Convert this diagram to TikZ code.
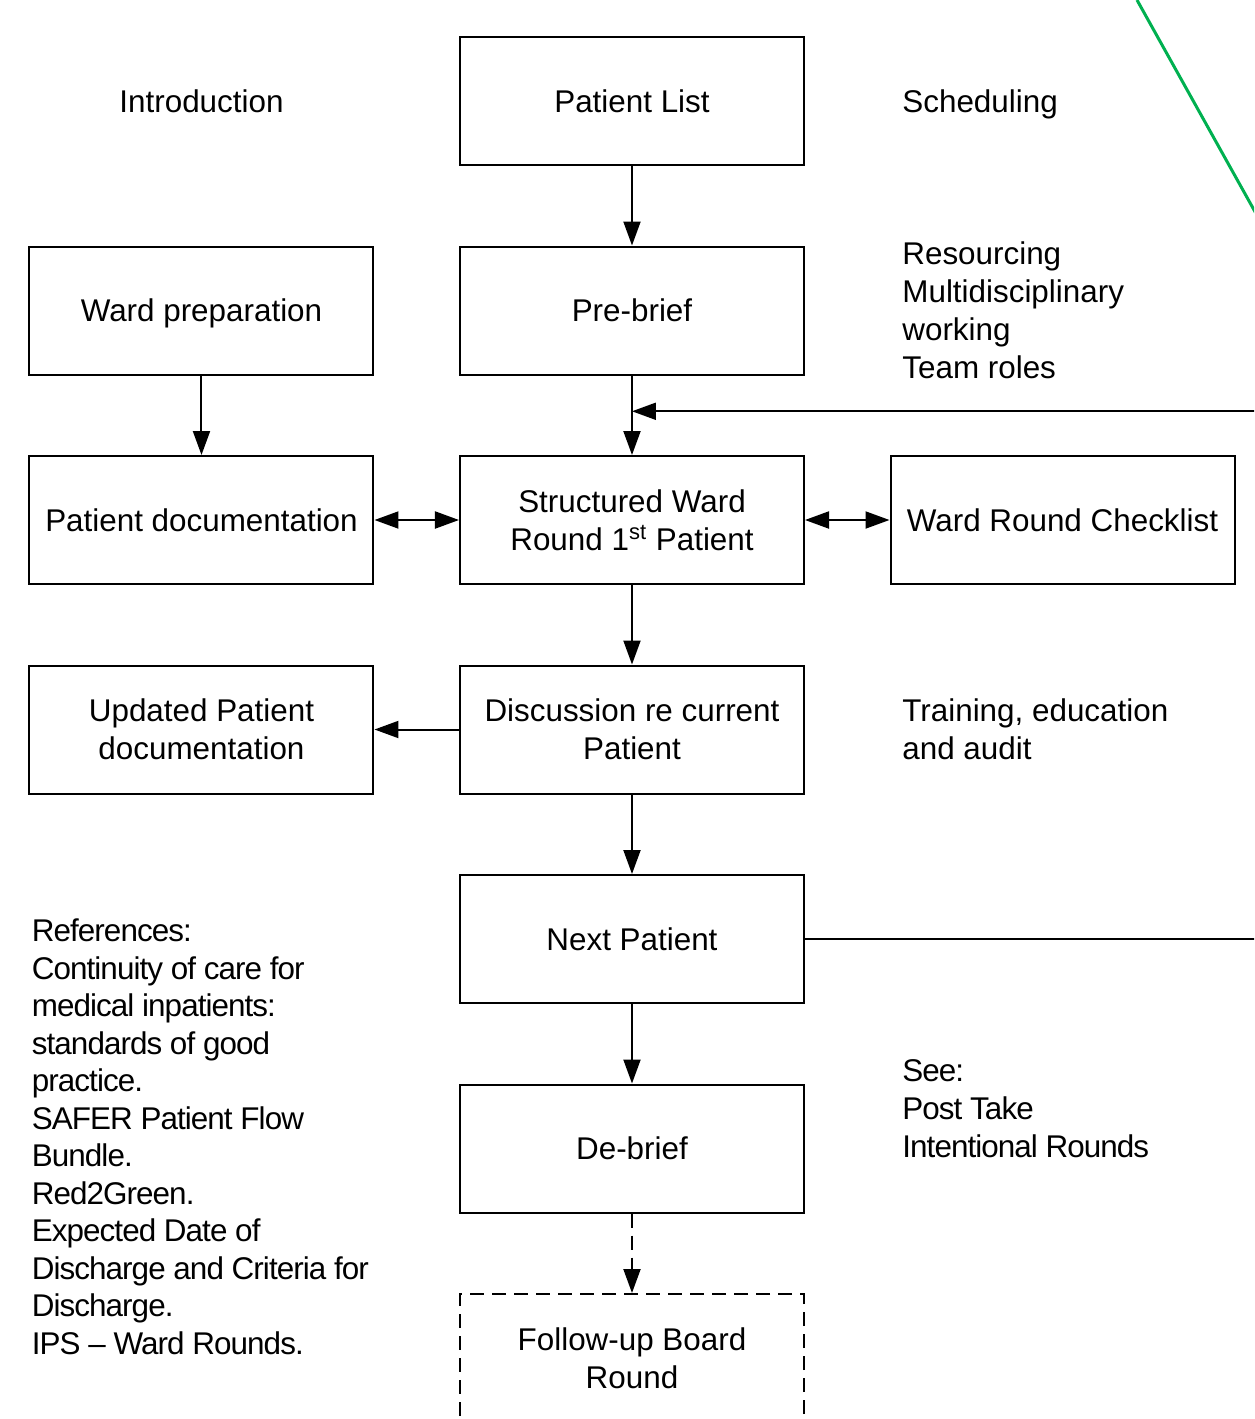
\documentclass[tikz,border=0pt]{standalone}
\usepackage{fontspec}
\setmainfont{Liberation Sans}
\newfontfamily\tightfont[LetterSpace=-3]{Liberation Sans}
\usetikzlibrary{arrows.meta,positioning}
\definecolor{slidegreen}{RGB}{0,176,80}
\tikzstyle{line} = [draw, line width=1pt, -{Triangle[length=12pt,width=8.5pt]}]
\tikzstyle{dline} = [draw, line width=1pt, {Triangle[length=12pt,width=8.5pt]}-{Triangle[length=12pt,width=8.5pt]}]
\tikzstyle{box} = [rectangle, draw, line width=1pt, minimum width=172pt, minimum height=64pt, align=center, text depth=0pt, node distance=104.75pt, font=\fontsize{15.7}{19}\selectfont]
\tikzstyle{fupbox} = [box, dash pattern=on 7pt off 4pt]
\tikzstyle{note} = [inner sep=0pt, align=left, text depth=0pt, font=\fontsize{15.7}{19}\selectfont]

\begin{document}
\begin{tikzpicture}
		\useasboundingbox (-316pt,50.5pt) rectangle (311pt,-659pt);
		\clip (-316pt,50.5pt) rectangle (311pt,-659pt);
		
		% main column
		\node [box] (list) {Patient List};
		\node [box, below of=list] (prebrief) {Pre-brief};
		\node [box, below of=prebrief] (swr) {Structured Ward\\Round 1\textsuperscript{st} Patient};
		\node [box, below of=swr] (disc) {Discussion re current\\Patient};
		\node [box, below of=disc] (next) {Next Patient};
		\node [box, below of=next] (debrief) {De-brief};
		\node [fupbox, below of=debrief] (followup) {Follow-up Board\\Round};
		
		% side boxes
		\node [box, left of=prebrief, node distance=215.25pt] (wardprep) {Ward preparation};
		\node [box, left of=swr, node distance=215.25pt] (pdoc) {Patient documentation};
		\node [box, right of=swr, node distance=215.25pt] (checklist) {Ward Round Checklist};
		\node [box, left of=disc, node distance=215.25pt] (updoc) {Updated Patient\\documentation};
		
		% notes
		\node [note, left of=list, node distance=215.25pt] (intro) {Introduction};
		\node [note, right=48.5pt of list] (sched) {Scheduling};
		\node [note, right=48.5pt of prebrief] (resourcing) {Resourcing\\Multidisciplinary\\working\\Team roles};
		\node [note, right=48.5pt of disc] (training) {Training, education\\and audit};
		\node [note, right=48.5pt of debrief, yshift=20pt, font=\tightfont\fontsize{15.7}{19}\selectfont] (see) {See:\\Post Take\\Intentional Rounds};
		\node [note, anchor=west, xshift=1.5pt, yshift=6pt, font=\tightfont\fontsize{15.7}{18.75}\selectfont] (refs) at (updoc.west |- debrief) {References:\\Continuity of care for\\medical inpatients:\\standards of good\\practice.\\SAFER Patient Flow\\Bundle.\\Red2Green.\\Expected Date of\\Discharge and Criteria for\\Discharge.\\IPS – Ward Rounds.};
		
		% arrows
		\path [line] (list) -- (prebrief);
		\path [line] (wardprep) -- (pdoc);
		\path [line] (prebrief) -- (swr);
		\path [dline] (pdoc) -- (swr);
		\path [dline] (swr) -- (checklist);
		\path [line] (swr) -- (disc);
		\path [line] (disc) -- (updoc);
		\path [line] (disc) -- (next);
		\path [line] (next) -- (debrief);
		\path [line, dash pattern=on 7pt off 4pt] (debrief) -- (followup);
		
		% loop back to the next patient
		\path (prebrief.south) -- (swr.north) coordinate [pos=0.45] (join);
		\path [line] (next.east) -- ++(250pt,0) |- (join);
		
		\draw [slidegreen, line width=1.5pt] (252.5pt,50.5pt) -- (340pt,-106.5pt);
\end{tikzpicture}
\end{document}
